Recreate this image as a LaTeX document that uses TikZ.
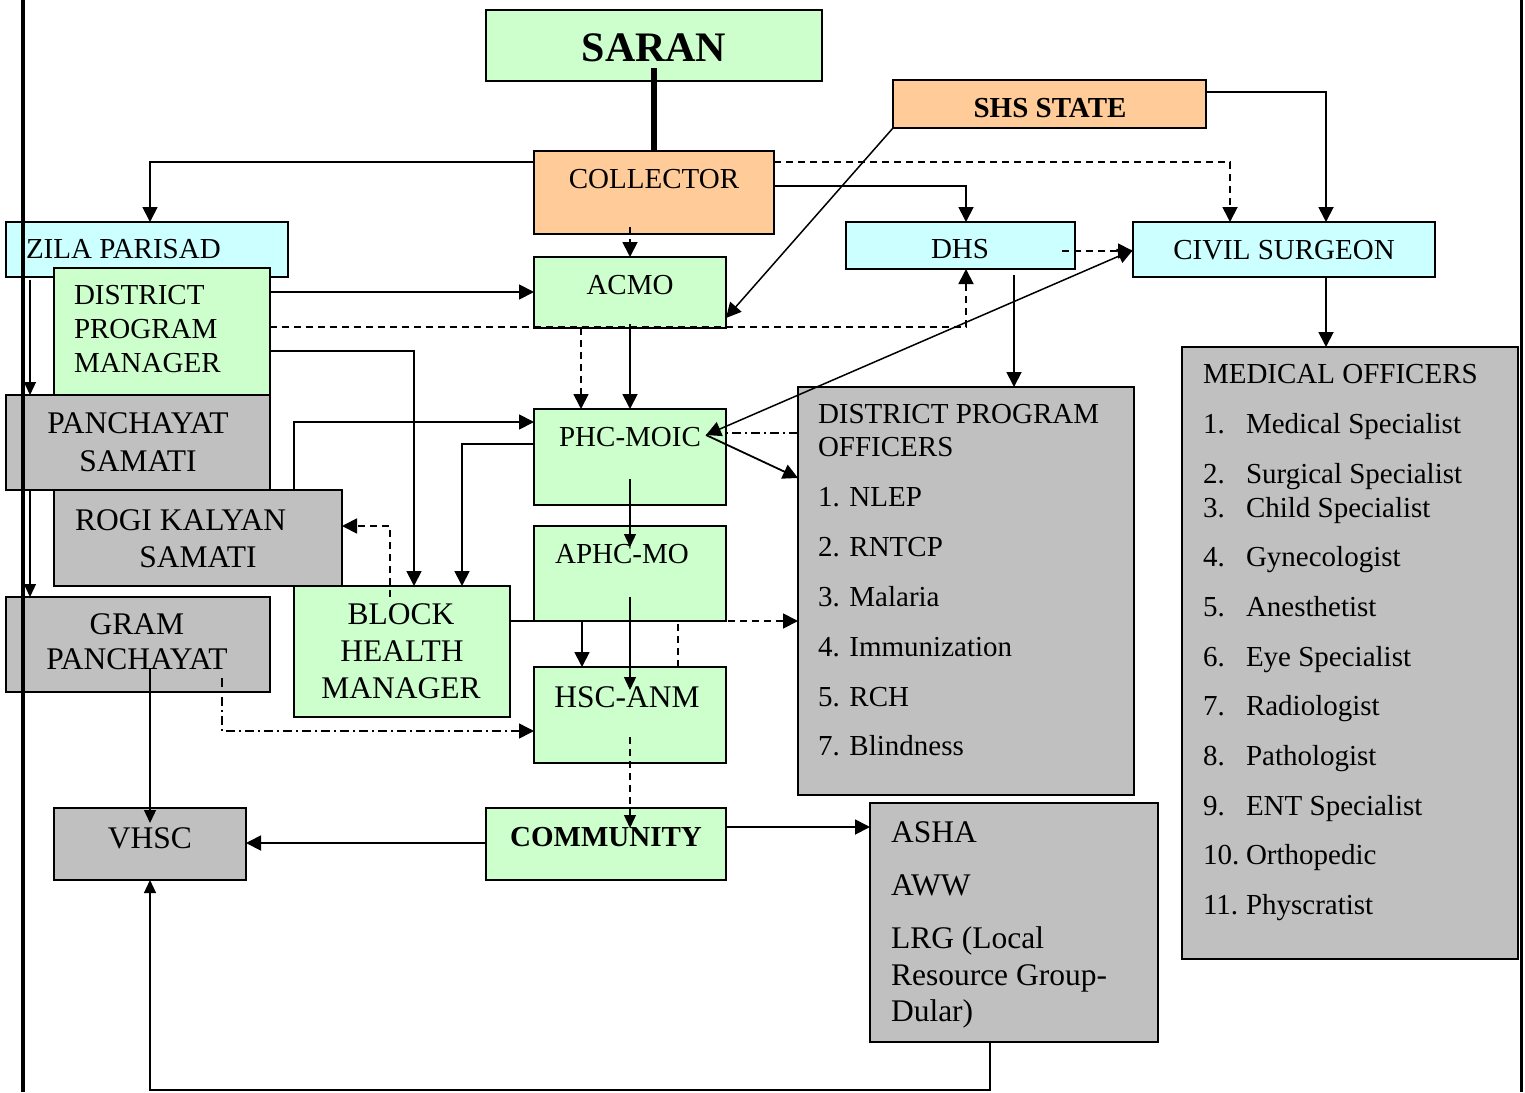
\documentclass[tikz,border=0pt]{standalone}
\usepackage{fontspec}
\setmainfont{Liberation Serif}
\usetikzlibrary{arrows.meta}
\definecolor{grn}{HTML}{CCFFCC}
\definecolor{org}{HTML}{FFCC99}
\definecolor{cyn}{HTML}{CCFFFF}
\definecolor{gry}{HTML}{C0C0C0}
\newcommand\fsA{\fontsize{29}{34}\selectfont}
\newcommand\fsC{\fontsize{31.5}{37}\selectfont}
\newcommand\fsB{\fontsize{42}{48}\selectfont\bfseries}
\begin{document}
\begin{tikzpicture}[x=1pt,y=-1pt,
  box/.style={draw=black, line width=1.8pt, anchor=north west, inner sep=0, outer sep=0},
  t/.style={inner sep=0, outer sep=0, text height=19.2pt, text depth=0pt, font=\fsA},
  tl/.style={t, anchor=west},
  tc/.style={t, font=\fsC, text height=20.9pt},
  tcl/.style={tc, anchor=west},
  tb/.style={t, font=\fsA\bfseries, text height=19.6pt},
  arr/.style={-{Triangle[length=15pt,width=15pt]}, line width=1.8pt},
  arrthin/.style={-{Triangle[length=13pt,width=12pt]}, line width=1.3pt},
  arr2/.style={{Triangle[length=15pt,width=15pt]}-{Triangle[length=15pt,width=15pt]}, line width=1.5pt},
  dsh/.style={dash pattern=on 7pt off 5pt},
  dshdot/.style={dash pattern=on 9pt off 4pt on 2pt off 4pt}
]
\useasboundingbox (0,0) rectangle (1525,1092);
\fill[white] (0,0) rectangle (1525,1092);

% ---- boxes ----
\node[box, fill=grn, minimum width=336pt, minimum height=71pt] (saran) at (486,10) {};
\node[box, fill=org, minimum width=313pt, minimum height=48pt] (shs) at (893,80) {};
\node[box, fill=org, minimum width=240pt, minimum height=83pt] (coll) at (534,151) {};
\node[box, fill=cyn, minimum width=282pt, minimum height=55pt] (zila) at (6,222) {};
\node[box, fill=grn, minimum width=216pt, minimum height=127pt] (dpm) at (54,268) {};
\node[box, fill=grn, minimum width=192pt, minimum height=71pt] (acmo) at (534,257) {};
\node[box, fill=cyn, minimum width=229pt, minimum height=47pt] (dhs) at (846,222) {};
\node[box, fill=cyn, minimum width=302pt, minimum height=55pt] (cs) at (1133,222) {};
\node[box, fill=gry, minimum width=264pt, minimum height=95pt] (pan) at (6,395) {};
\node[box, fill=grn, minimum width=192pt, minimum height=96pt] (phc) at (534,409) {};
\node[box, fill=gry, minimum width=336pt, minimum height=408pt] (dpo) at (798,387) {};
\node[box, fill=gry, minimum width=336pt, minimum height=612pt] (mo) at (1182,347) {};
\node[box, fill=gry, minimum width=288pt, minimum height=96pt] (rogi) at (54,490) {};
\node[box, fill=grn, minimum width=192pt, minimum height=95pt] (aphc) at (534,526) {};
\node[box, fill=grn, minimum width=216pt, minimum height=131pt] (bhm) at (294,586) {};
\node[box, fill=gry, minimum width=264pt, minimum height=95pt] (gram) at (6,597) {};
\node[box, fill=grn, minimum width=192pt, minimum height=96pt] (hsc) at (534,667) {};
\node[box, fill=gry, minimum width=192pt, minimum height=72pt] (vhsc) at (54,808) {};
\node[box, fill=grn, minimum width=240pt, minimum height=72pt] (comm) at (486,808) {};
\node[box, fill=gry, minimum width=288pt, minimum height=239pt] (asha) at (870,803) {};

% ---- texts ----
\node[t, font=\fsB, text height=28.4pt] (saran-t) at (654,47) {SARAN};
\node[tb] (shs-t) at (1050,108) {SHS STATE};
\node[t] (coll-t) at (654,179) {COLLECTOR};
\node[tl] (zila-t) at (26,249) {ZILA PARISAD};
\node[tl] (dpm-t1) at (74,295) {DISTRICT};
\node[tl] (dpm-t2) at (74,329) {PROGRAM};
\node[tl] (dpm-t3) at (74,363) {MANAGER};
\node[t] (acmo-t) at (630,285) {ACMO};
\node[t] (dhs-t) at (960,249) {DHS};
\node[t] (cs-t) at (1284,250) {CIVIL SURGEON};
\node[tc] (pan-t1) at (138,423) {PANCHAYAT};
\node[tc] (pan-t2) at (138,461) {SAMATI};
\node[t] (phc-t) at (630,437) {PHC-MOIC};
\node[tl] (dpo-t1) at (818,414) {DISTRICT PROGRAM};
\node[tl] (dpo-t2) at (818,447) {OFFICERS};
\foreach \y/\s [count=\i] in {497/1. NLEP, 547/2. RNTCP, 597/3. Malaria, 647/4. Immunization, 697/5. RCH, 746/7. Blindness}
  \node[tl] (dpo-i\i) at (818,\y) {\s};
\node[tl] (mo-t) at (1203,374) {MEDICAL OFFICERS};
\foreach \n/\y/\s [count=\i] in {1./424/Medical Specialist, 2./474/Surgical Specialist, 3./508/Child Specialist, 4./557/Gynecologist, 5./607/Anesthetist, 6./657/Eye Specialist, 7./706/Radiologist, 8./756/Pathologist, 9./806/ENT Specialist, 10./855/Orthopedic, 11./905/Physcratist}
  {\node[tl] (mo-n\i) at (1203,\y) {\n};
   \node[tl] (mo-i\i) at (1246,\y) {\s};}
\node[tcl] (rogi-t1) at (75,520) {ROGI KALYAN};
\node[tc] (rogi-t2) at (198,557) {SAMATI};
\node[t] (aphc-t) at (622,554) {APHC-MO};
\node[tc] (bhm-t1) at (401,614) {BLOCK};
\node[tc] (bhm-t2) at (402,651) {HEALTH};
\node[tc] (bhm-t3) at (401,688) {MANAGER};
\node[tc] (gram-t1) at (137,624) {GRAM};
\node[tc] (gram-t2) at (137,659) {PANCHAYAT};
\node[tc] (hsc-t) at (627,697) {HSC-ANM};
\node[tc] (vhsc-t) at (150,838) {VHSC};
\node[tb] (comm-t) at (606,837) {COMMUNITY};
\node[tcl] (asha-t1) at (891,832) {ASHA};
\node[tcl] (asha-t2) at (891,885) {AWW};
\node[tcl] (asha-t3) at (891,938) {LRG (Local};
\node[tcl] (asha-t4) at (891,975) {Resource Group-};
\node[tcl] (asha-t5) at (891,1011) {Dular)};

% ---- named free ends ----
\coordinate (saranout) at (654,68);
\coordinate (dhsout) at (1062,251);
\coordinate (phcin) at (706,435);
\coordinate (bhmtop) at (390,597);
\coordinate (gramout) at (222,678);
\coordinate (gramdown) at (150,668);
\coordinate (vhscin) at (150,823);
\coordinate (hscout) at (630,737);
\coordinate (commin) at (630,828);
\coordinate (ashacorner) at (990,1090);

% ---- connectors ----
\draw[line width=5.5pt] (saranout) -- (coll.north);
\draw[arr] (coll.west |- 0,162) -| (zila.north -| 150,0);
\draw[arr, dsh] (coll.east |- 0,162) -| (cs.north -| 1230,0);
\draw[arr] (shs.east |- 0,92) -| (cs.north -| 1326,0);
\draw[arr] (cs.south -| 1326,0) -- (mo.north -| 1326,0);
\draw[arr] (coll.east |- 0,186) -| (dhs.north -| 966,0);
\draw[arr, dsh] (dhsout) -- (cs.west |- 0,251);
\draw[arr] ([yshift=-6pt]dhs.south -| 1014,0) -- (dpo.north -| 1014,0);
\draw[arr, dsh] (dpm.east |- 0,327) -| (dhs.south -| 966,0);
\draw[arr, dsh] ([yshift=7pt]coll.south -| 630,0) -- (acmo.north -| 630,0);
\draw[arr, line width=1.5pt] (shs.south west) -- (acmo.east |- 0,318);
\draw[arr] (dpm.east |- 0,292) -- (acmo.west |- 0,292);
\draw[arr] (dpm.east |- 0,351) -| (bhm.north -| 414,0);
\draw[arr] ([yshift=4pt]acmo.south -| 630,0) -- (phc.north -| 630,0);
\draw[arr, dsh] (acmo.south -| 581,0) -- (phc.north -| 581,0);
\draw[arr2] (cs.west |- 0,250) -- (phcin);
\draw[arr] (phcin) -- (dpo.west |- 0,478);
\draw[dshdot, line width=1.5pt] (dpo.west |- 0,433) -- (phc.east |- 0,433);
\draw[arr] (rogi.north -| 294,0) |- (phc.west |- 0,422);
\draw[arr] (phc.west |- 0,444) -| (bhm.north -| 462,0);
\draw[arr, dsh] (bhmtop) |- (rogi.east |- 0,526);
\draw[arrthin] ([yshift=-22pt]phc.center) -- ([yshift=-21pt]aphc.north);
\draw[arrthin] ([yshift=-23pt]aphc.center) -- ([yshift=-23pt]hsc.north);
\draw[arr] (bhm.east |- 0,621) -| (hsc.north -| 582,0);
\draw[arr, dsh] (hsc.north -| 678,0) |- (dpo.west |- 0,621);
\draw[arr, dshdot, line width=1.5pt] (gramout) |- (hsc.west |- 0,731);
\draw[arrthin] (gramdown) -- (vhscin);
\draw[arrthin, dsh] (hscout) -- (commin);
\draw[arr] (comm.west |- 0,843) -- (vhsc.east |- 0,843);
\draw[arr] (comm.east |- 0,827) -- (asha.west |- 0,827);
\draw[arrthin] (asha.south -| 990,0) -- (ashacorner) -| (vhsc.south -| 150,0);
\draw[arrthin] ([yshift=-3pt]zila.south -| 30,0) -- (pan.north -| 30,0);
\draw[arrthin] (pan.south -| 30,0) -- (gram.north -| 30,0);

% ---- page border rules ----
\draw[line width=4pt] (23,0) -- (23,1092);
\draw[line width=3pt] (1521,0) -- (1521,1092);
\end{tikzpicture}
\end{document}
